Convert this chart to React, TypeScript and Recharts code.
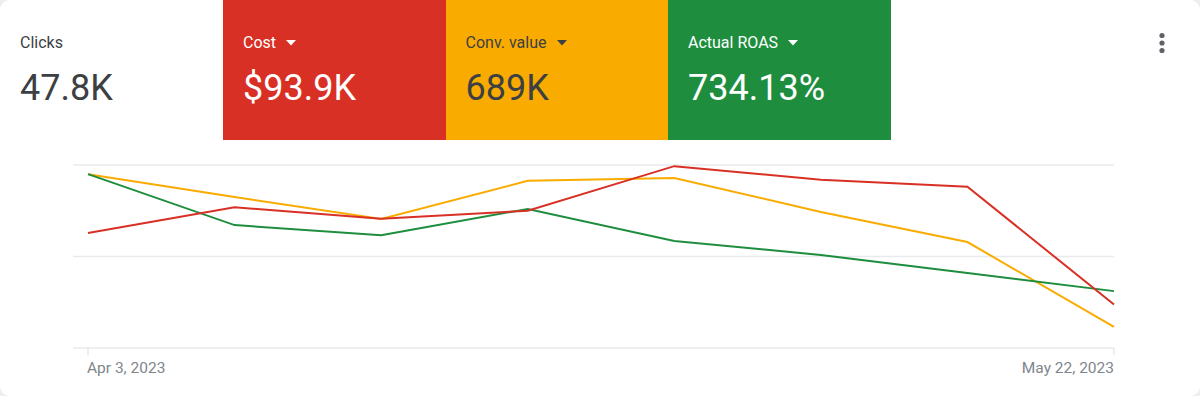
import { CartesianGrid, Line, LineChart, XAxis, YAxis } from "recharts";

// weekly buckets, Apr 3 – May 22, 2023
const weeks = [
  "Apr 3, 2023",
  "Apr 10, 2023",
  "Apr 17, 2023",
  "Apr 24, 2023",
  "May 1, 2023",
  "May 8, 2023",
  "May 15, 2023",
  "May 22, 2023",
];
const cost = [10050, 12300, 11300, 12000, 15900, 14700, 14100, 3800];
const convValue = [114000, 99000, 84600, 109600, 111500, 89200, 69500, 13800];
const roas = [11.4, 8.06, 7.4, 9.12, 7.02, 6.1, 4.92, 3.73];

const edgeTicks = [weeks[0], weeks[weeks.length - 1]];

const RED = "#d93025";
const YELLOW = "#f9ab00";
const GREEN = "#1e8e3e";
const FONT = "Roboto, 'Noto Sans', sans-serif";

const data = weeks.map((week, i) => ({
  week,
  cost: cost[i],
  convValue: convValue[i],
  roas: roas[i],
}));

type TileProps = {
  label: string;
  value: string;
  bg: string;
  fg: string;
  dropdown?: boolean;
};

function Tile({ label, value, bg, fg, dropdown }: TileProps) {
  return (
    <div
      style={{
        width: 222.5,
        height: 140,
        background: bg,
        color: fg,
        position: "relative",
      }}
    >
      <div
        style={{
          position: "absolute",
          top: 33,
          left: 20,
          fontSize: 16,
          lineHeight: "20px",
          display: "flex",
          alignItems: "center",
        }}
      >
        {label}
        {dropdown && (
          <svg width={10} height={6} style={{ marginLeft: 10 }}>
            <polygon points="0,0 10,0 5,5.5" fill={fg} />
          </svg>
        )}
      </div>
      <div
        style={{
          position: "absolute",
          top: 66,
          left: 20,
          fontSize: 36,
          lineHeight: "44px",
        }}
      >
        {value}
      </div>
    </div>
  );
}

function EdgeTick(props: any) {
  const { x, y, payload, index } = props;
  const anchor = index === 0 ? "start" : "end";
  return (
    <g>
      <line x1={x} x2={x} y1={y - 8} y2={y - 1} stroke="#dadce0" />
      <text
        x={anchor === "start" ? x - 1 : x}
        y={y + 17}
        textAnchor={anchor}
        fill="#80868b"
        fontSize={15.5}
        fontFamily={FONT}
      >
        {payload.value}
      </text>
    </g>
  );
}

export default function App() {
  return (
    <div
      style={{
        position: "absolute",
        left: 0,
        top: 0,
        width: 1200,
        height: 396,
        background: "#eceff1",
        fontFamily: FONT,
      }}
    >
      <div
        style={{
          position: "absolute",
          inset: 0,
          background: "#fff",
          borderRadius: 10,
          overflow: "hidden",
        }}
      >
        <div style={{ display: "flex", position: "absolute", left: 0, top: 0 }}>
          <div style={{ width: 223 }}>
            <Tile label="Clicks" value="47.8K" bg="#fff" fg="#3c4043" />
          </div>
          <Tile label="Cost" value="$93.9K" bg={RED} fg="#fff" dropdown />
          <Tile label="Conv. value" value="689K" bg={YELLOW} fg="#3c4043" dropdown />
          <Tile label="Actual ROAS" value="734.13%" bg={GREEN} fg="#fff" dropdown />
        </div>

        <svg
          width={10}
          height={22}
          style={{ position: "absolute", left: 1157, top: 32 }}
        >
          <circle cx={5} cy={3.5} r={2.6} fill="#5f6368" />
          <circle cx={5} cy={11} r={2.6} fill="#5f6368" />
          <circle cx={5} cy={18.5} r={2.6} fill="#5f6368" />
        </svg>

        <div style={{ position: "absolute", left: 0, top: 140 }}>
          <LineChart
            width={1200}
            height={256}
            data={data}
            margin={{ top: 25, right: 86, bottom: 18, left: 73 }}
          >
            <CartesianGrid
              vertical={false}
              yAxisId="cost"
              stroke="#e8eaed"
              strokeWidth={1.5}
            />
            <XAxis
              dataKey="week"
              ticks={edgeTicks}
              interval={0}
              padding={{ left: 15, right: 0 }}
              axisLine={false}
              tickLine={false}
              tick={<EdgeTick />}
              height={30}
            />
            <YAxis
              yAxisId="cost"
              hide
              domain={[0, 16000]}
              ticks={[0, 8000, 16000]}
            />
            <YAxis yAxisId="conv" hide domain={[0, 120000]} />
            <YAxis yAxisId="roas" hide domain={[0, 12]} />
            <Line
              yAxisId="conv"
              dataKey="convValue"
              stroke={YELLOW}
              strokeWidth={2}
              dot={false}
              isAnimationActive={false}
            />
            <Line
              yAxisId="roas"
              dataKey="roas"
              stroke={GREEN}
              strokeWidth={2}
              dot={false}
              isAnimationActive={false}
            />
            <Line
              yAxisId="cost"
              dataKey="cost"
              stroke={RED}
              strokeWidth={2}
              dot={false}
              isAnimationActive={false}
            />
          </LineChart>
        </div>
      </div>
    </div>
  );
}
